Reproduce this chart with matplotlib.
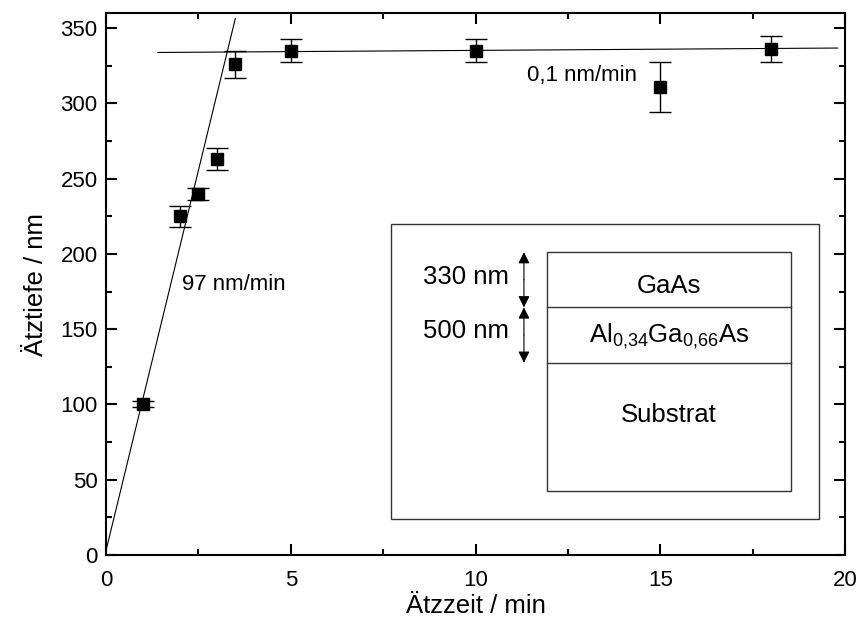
import matplotlib
matplotlib.use('Agg')
import matplotlib.pyplot as plt
from matplotlib.patches import Rectangle
from matplotlib.ticker import MultipleLocator

plt.rcParams['font.family'] = ['Liberation Sans', 'DejaVu Sans']
plt.rcParams['mathtext.fontset'] = 'custom'
plt.rcParams['mathtext.rm'] = 'Liberation Sans'
plt.rcParams['mathtext.default'] = 'regular'

# measured etch depth vs. etch time
zeit = [1, 2, 2.5, 3, 3.5, 5, 10, 15, 18]
tiefe = [100, 225, 240, 263, 326, 335, 335, 311, 336]
fehler = [2, 7, 4, 7.5, 9, 7.5, 7.5, 16.5, 8.7]

# fitted lines (slope, intercept, x range)
fit1_x = [0, 3.5]
fit1_m, fit1_b = 101, 3
fit2_x = [1.4, 19.8]
fit2_m, fit2_b = 0.16, 333.6

# layer stack of the inset (depth borders, data units)
schicht_y = [201.2, 164.5, 127.7, 42.7]
schicht_namen = ['GaAs', r'Al$_{0{,}34}$Ga$_{0{,}66}$As', 'Substrat']
namen_y = [179, 145, 93]
dicken = ['330 nm', '500 nm']
dicken_y = [185, 148.5]

fig = plt.figure(figsize=(8.6, 6.22), dpi=100)
ax = fig.add_axes([0.1233, 0.1077, 0.8593, 0.8713])

ax.plot(fit1_x, [fit1_b + fit1_m * x for x in fit1_x], color='black', lw=0.8)
ax.plot(fit2_x, [fit2_b + fit2_m * x for x in fit2_x], color='black', lw=0.8)
ax.errorbar(zeit, tiefe, yerr=fehler, fmt='s', color='black', ms=8.5,
            ecolor='black', elinewidth=1, capsize=8, capthick=1, zorder=5)

ax.text(2.05, 180, '97 nm/min', fontsize=16, va='center')
ax.text(11.4, 318.5, '0,1 nm/min', fontsize=16, va='center')

# inset: layer sketch
ax.add_patch(Rectangle((7.72, 24.1), 19.29 - 7.72, 219.8 - 24.1, fill=False,
                       ec='#333333', lw=1.0))
x0, x1 = 11.93, 18.53
ax.add_patch(Rectangle((x0, schicht_y[-1]), x1 - x0, schicht_y[0] - schicht_y[-1],
                       fill=False, ec='#333333', lw=1.0))
for y in schicht_y[1:-1]:
    ax.plot([x0, x1], [y, y], color='#333333', lw=1.0)
for name, yn in zip(schicht_namen, namen_y):
    ax.text((x0 + x1) / 2, yn, name, fontsize=18.5, ha='center', va='center')
for i, d in enumerate(dicken):
    top, bot = schicht_y[i], schicht_y[i + 1]
    mid = (top + bot) / 2
    for end in (top, bot):
        ax.annotate('', xy=(11.31, end), xytext=(11.31, mid),
                    arrowprops=dict(arrowstyle='-|>', color='black', lw=0.8,
                                    mutation_scale=17, shrinkA=0, shrinkB=0))
    ax.text(10.9, dicken_y[i], d, fontsize=18.5, ha='right', va='center')

ax.set_xlim(0, 20)
ax.set_ylim(0, 360)
ax.xaxis.set_major_locator(MultipleLocator(5))
ax.xaxis.set_minor_locator(MultipleLocator(2.5))
ax.yaxis.set_major_locator(MultipleLocator(50))
ax.yaxis.set_minor_locator(MultipleLocator(25))
ax.tick_params(which='both', direction='in', top=True, right=True, width=1.5,
               labelsize=16, pad=6)
ax.tick_params(axis='x', which='both', pad=11)
ax.tick_params(which='major', length=8)
ax.tick_params(which='minor', length=4.5)
for s in ax.spines.values():
    s.set_linewidth(1.5)

ax.set_xlabel('Ätzzeit / min', fontsize=18.5, labelpad=2)
ax.set_ylabel('Ätztiefe / nm', fontsize=18.5, labelpad=9)

fig.savefig('out.png', dpi=100)
